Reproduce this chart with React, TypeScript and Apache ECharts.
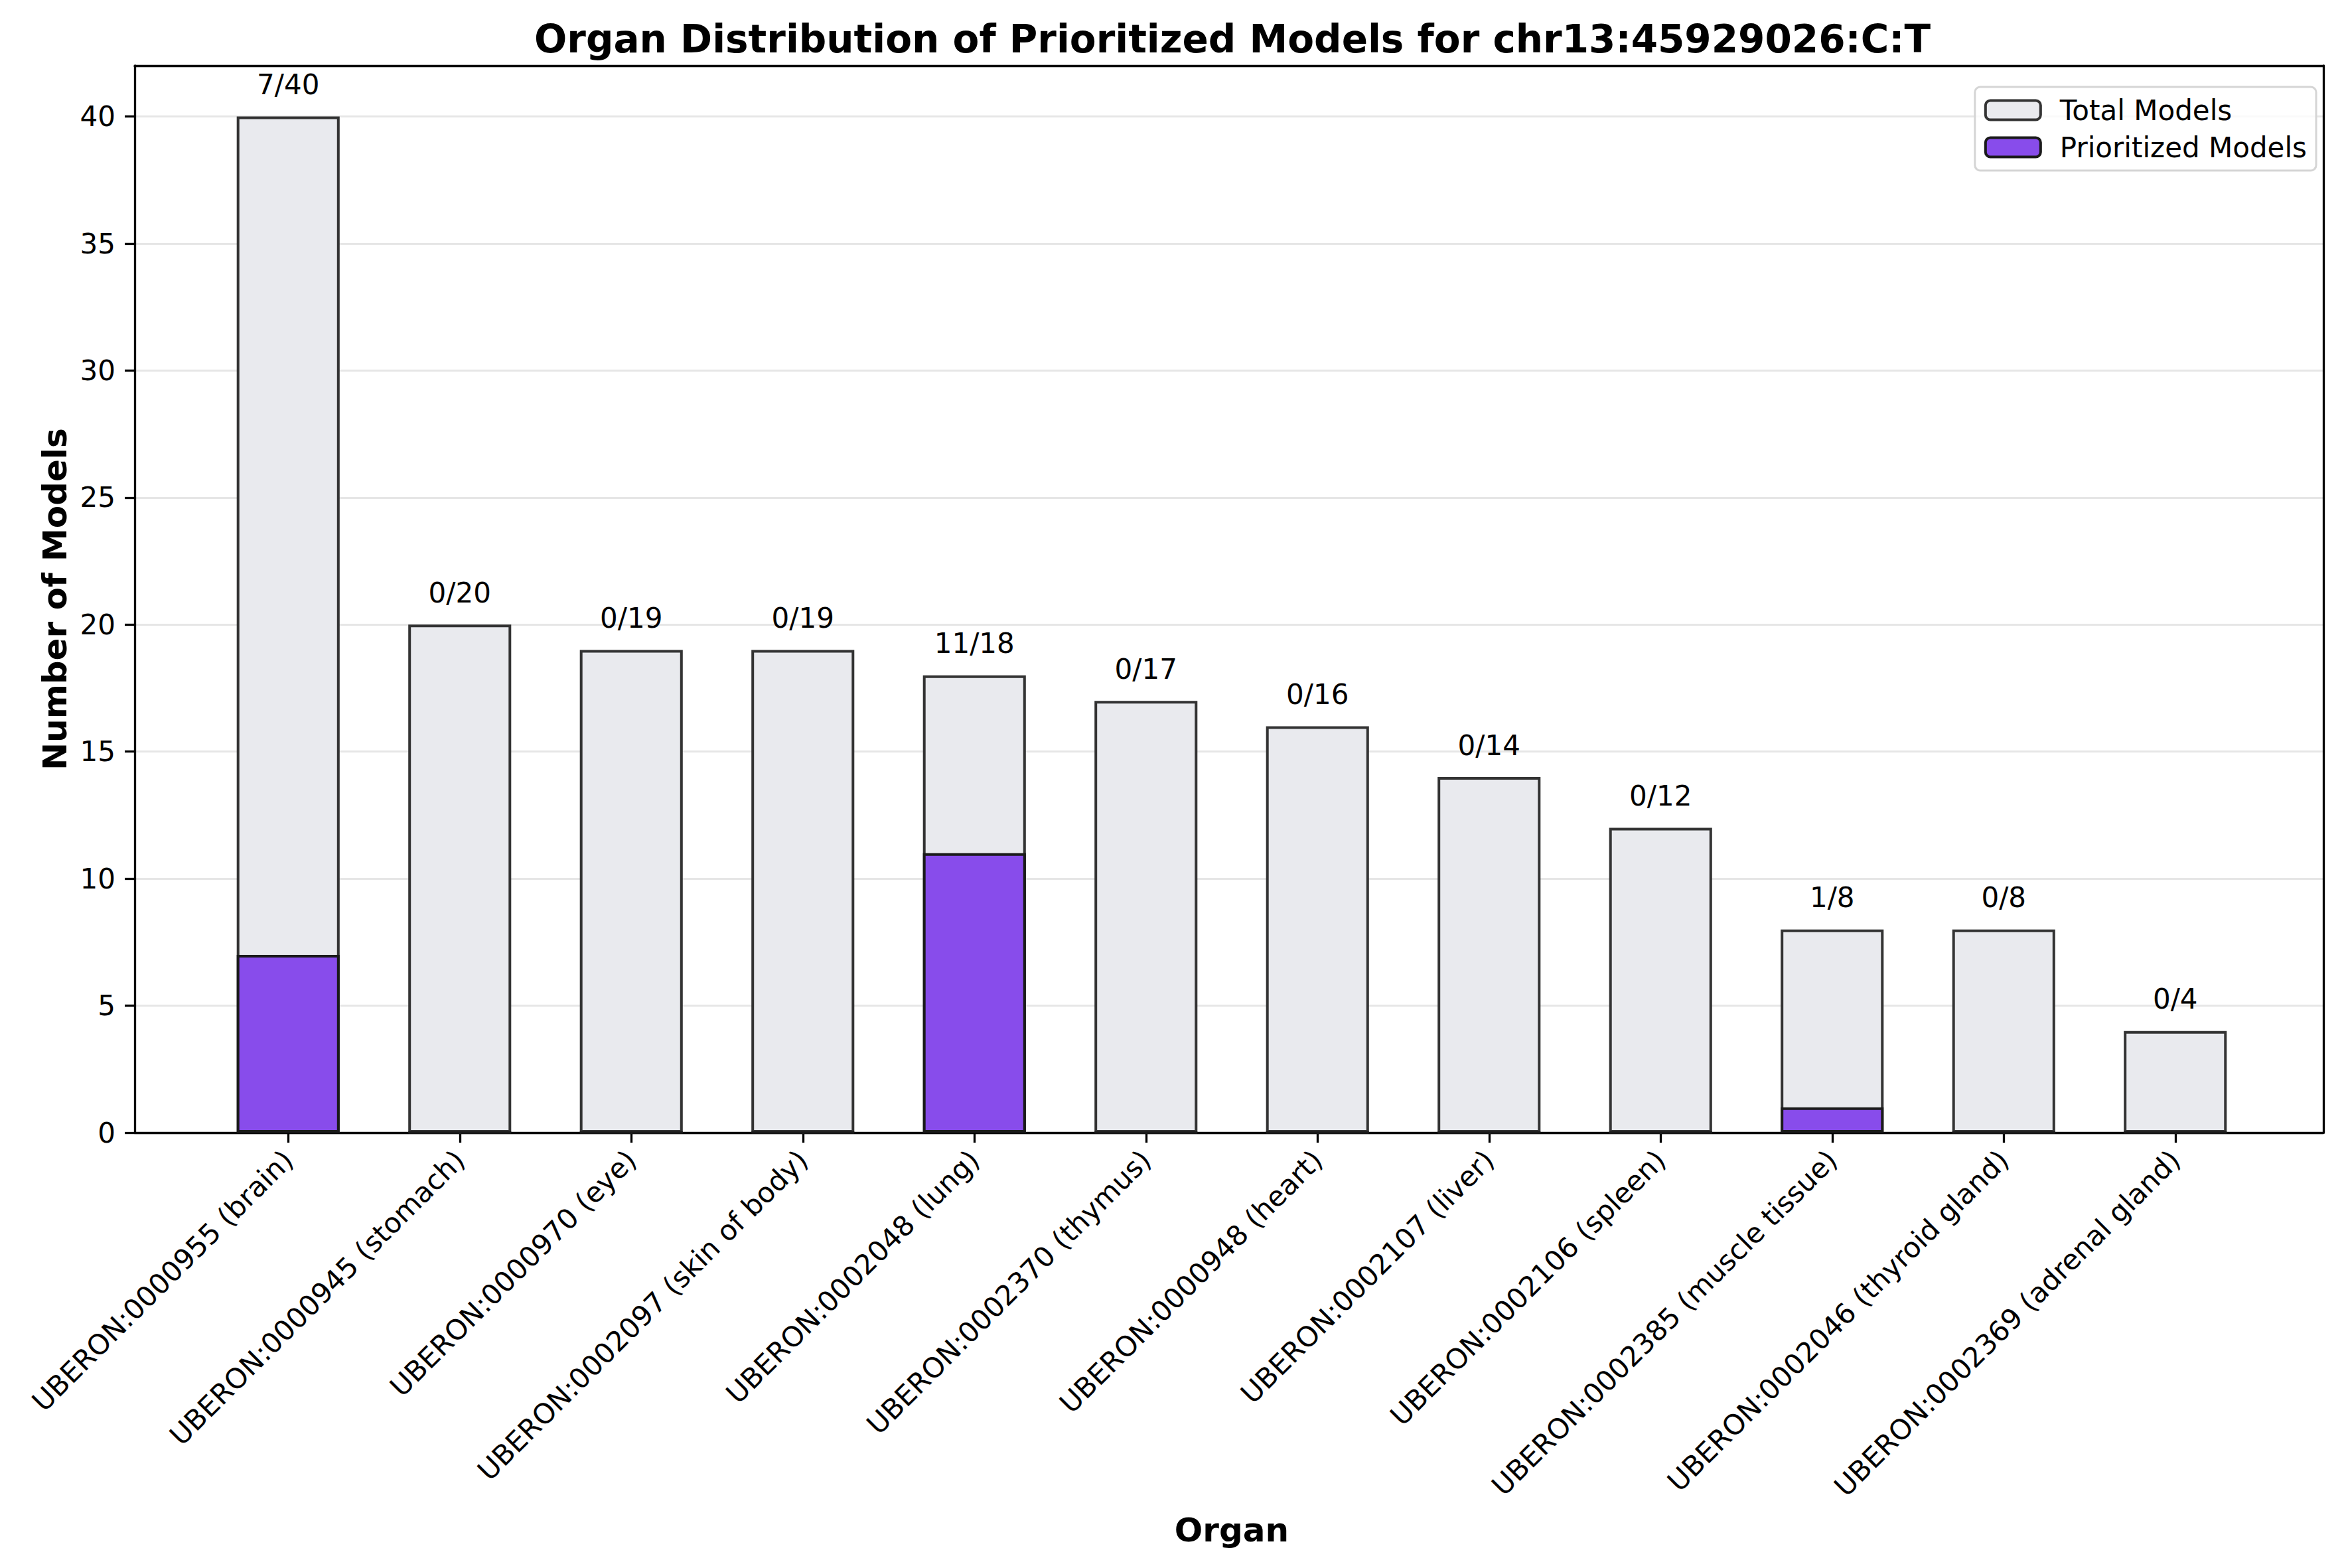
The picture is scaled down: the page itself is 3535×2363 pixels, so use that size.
import React, { useEffect, useRef } from "react";
import * as echarts from "echarts";

const categories = [
  "UBERON:0000955 (brain)",
  "UBERON:0000945 (stomach)",
  "UBERON:0000970 (eye)",
  "UBERON:0002097 (skin of body)",
  "UBERON:0002048 (lung)",
  "UBERON:0002370 (thymus)",
  "UBERON:0000948 (heart)",
  "UBERON:0002107 (liver)",
  "UBERON:0002106 (spleen)",
  "UBERON:0002385 (muscle tissue)",
  "UBERON:0002046 (thyroid gland)",
  "UBERON:0002369 (adrenal gland)",
];
const totalModels = [40, 20, 19, 19, 18, 17, 16, 14, 12, 8, 8, 4];
const prioritizedModels = [7, 0, 0, 0, 11, 0, 0, 0, 0, 1, 0, 0];
const yTicks = { min: 0, max: 42, interval: 5 };

const FONT = "DejaVu Sans";
const TOTAL_FILL = "#e9eaee";
const TOTAL_EDGE = "#333333";
const PRIO_FILL = "#884ceb";
const PRIO_EDGE = "#1a1a1a";

export default function App() {
  const ref = useRef<HTMLDivElement>(null);
  useEffect(() => {
    if (!ref.current) return;
    const chart = echarts.init(ref.current, undefined, { renderer: "svg" });
    const outer = { left: 203, top: 99, width: 3298, height: 1608 };
    const inner = { left: 305, top: 99, width: 3102, height: 1608 };
    const spine = { show: true, onZero: false, lineStyle: { color: "#000", width: 3.3 } };
    chart.setOption({
      animation: false,
      backgroundColor: "#fff",
      title: {
        text: "Organ Distribution of Prioritized Models for chr13:45929026:C:T",
        left: 1852,
        top: 54,
        textAlign: "center",
        textVerticalAlign: "middle",
        textStyle: { fontFamily: FONT, fontSize: 58, fontWeight: "bold", color: "#000" },
      },
      grid: [
        { ...outer, containLabel: false },
        { ...inner, containLabel: false },
      ],
      legend: {
        right: 45,
        top: 131,
        orient: "vertical",
        backgroundColor: "rgba(255,255,255,0.8)",
        borderColor: "#d5d5d5",
        borderWidth: 3,
        borderRadius: 8,
        padding: [14, 14, 14, 14],
        itemWidth: 83,
        itemHeight: 29,
        itemGap: 14,
        textStyle: { fontFamily: FONT, fontSize: 42, color: "#000", padding: [0, 0, 0, 24] },
        data: [
          { name: "Total Models", itemStyle: { color: TOTAL_FILL, borderColor: TOTAL_EDGE, borderWidth: 4 } },
          { name: "Prioritized Models", itemStyle: { color: PRIO_FILL, borderColor: PRIO_EDGE, borderWidth: 4 } },
        ],
      },
      xAxis: [
        {
          gridIndex: 0, type: "value", min: 0, max: 1, position: "bottom",
          axisLine: spine, axisTick: { show: false }, axisLabel: { show: false }, splitLine: { show: false },
        },
        {
          gridIndex: 0, type: "value", min: 0, max: 1, position: "top",
          axisLine: spine, axisTick: { show: false }, axisLabel: { show: false }, splitLine: { show: false },
        },
        {
          gridIndex: 1, type: "category", data: categories, boundaryGap: true,
          axisLine: { show: false },
          axisTick: { show: true, alignWithLabel: true, length: 15, lineStyle: { color: "#000", width: 3.3 } },
          axisLabel: {
            rotate: 45, interval: 0, margin: 34,
            fontFamily: FONT, fontSize: 42, color: "#000",
          },
          name: "Organ",
          nameLocation: "middle",
          nameGap: 599,
          nameTextStyle: { fontFamily: FONT, fontSize: 50, fontWeight: "bold", color: "#000", verticalAlign: "middle" },
        },
      ],
      yAxis: [
        {
          gridIndex: 0, type: "value", min: yTicks.min, max: yTicks.max, interval: yTicks.interval,
          axisLine: spine,
          axisTick: { show: true, length: 15, lineStyle: { color: "#000", width: 3.3 } },
          axisLabel: { margin: 29, fontFamily: FONT, fontSize: 42, color: "#000", showMaxLabel: false },
          splitLine: { show: true, lineStyle: { color: "#e6e6e6", width: 3 } },
          name: "Number of Models",
          nameLocation: "middle",
          nameGap: 120,
          nameTextStyle: { fontFamily: FONT, fontSize: 50, fontWeight: "bold", color: "#000", verticalAlign: "middle" },
        },
        {
          gridIndex: 0, type: "value", min: yTicks.min, max: yTicks.max, position: "right",
          axisLine: spine, axisTick: { show: false }, axisLabel: { show: false }, splitLine: { show: false },
        },
        {
          gridIndex: 1, type: "value", min: yTicks.min, max: yTicks.max, show: false,
          splitLine: { show: false },
        },
      ],
      series: [
        {
          name: "Total Models",
          type: "bar",
          xAxisIndex: 2,
          yAxisIndex: 2,
          data: totalModels,
          barWidth: "60%",
          barGap: "-100%",
          itemStyle: { color: TOTAL_FILL, borderColor: TOTAL_EDGE, borderWidth: 4 },
          label: {
            show: true,
            position: "top",
            distance: 27,
            fontFamily: FONT,
            fontSize: 42,
            color: "#000",
            formatter: (p: any) => `${prioritizedModels[p.dataIndex]}/${totalModels[p.dataIndex]}`,
          },
        },
        {
          name: "Prioritized Models",
          type: "bar",
          xAxisIndex: 2,
          yAxisIndex: 2,
          data: prioritizedModels,
          barWidth: "60%",
          barGap: "-100%",
          itemStyle: { color: PRIO_FILL, borderColor: PRIO_EDGE, borderWidth: 4 },
        },
      ],
    });
    return () => chart.dispose();
  }, []);
  return (
    <div
      ref={ref}
      style={{ position: "fixed", left: 0, top: 0, width: 3535, height: 2363, background: "#fff" }}
    />
  );
}
